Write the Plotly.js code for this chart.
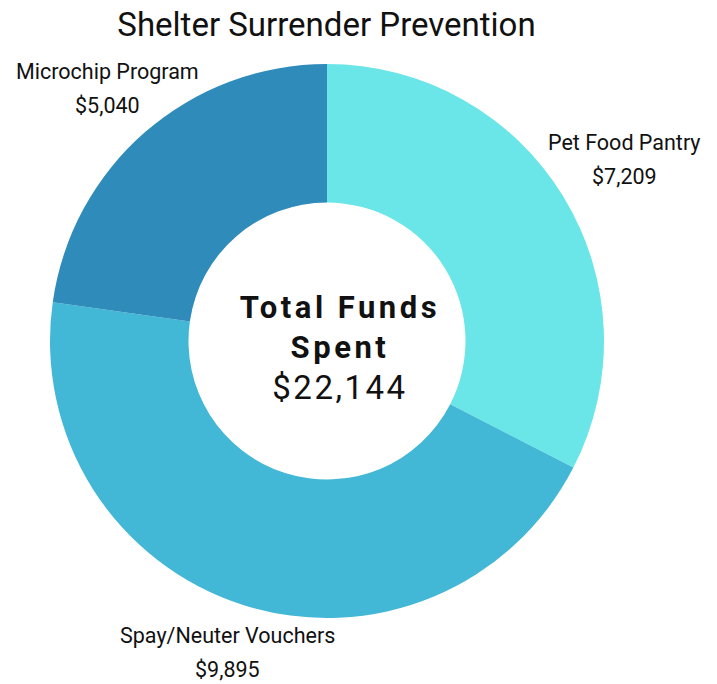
<!DOCTYPE html>
<html>
<head>
<meta charset="utf-8">
<script src="https://cdn.plot.ly/plotly-3.0.1.min.js"></script>
<style>
  body { margin: 0; background: #fff; }
  #grafico { width: 717px; height: 684px; }
  .centro .annotation-text { letter-spacing: 3.5px; }
</style>
</head>
<body>
<div id="grafico"></div>
<script>
// dados do gráfico
var programas = ['Pet Food Pantry', 'Spay/Neuter Vouchers', 'Microchip Program'];
var gastos = [7209, 9895, 5040];
var cores = ['#6ae5e8', '#42b7d6', '#2e8bba'];
var totalGasto = '$22,144';

var W = 717, H = 684;
var cx = 327, cy = 341, R = 277;   // centro e raio da rosca (px)
var fonte = 'Roboto, sans-serif';
var tamRotulo = 21.5;

function dinheiro(v) {
    return '$' + v.toLocaleString('en-US');
}

// mede a largura do texto para posicionar os rótulos fora da rosca
var ctx = document.createElement('canvas').getContext('2d');
ctx.font = tamRotulo + 'px Roboto';

var total = gastos.reduce(function (a, b) { return a + b; }, 0);
var anotacoes = [];
var acumulado = 0;
for (var i = 0; i < gastos.length; i++) {
    var meio = (acumulado + gastos[i] / 2) / total * 2 * Math.PI;
    acumulado += gastos[i];
    var dx = Math.sin(meio), dy = -Math.cos(meio);
    var hw = Math.max(ctx.measureText(programas[i]).width, ctx.measureText(dinheiro(gastos[i])).width) / 2;
    var hh = 25;
    var t = Math.min(Math.abs(dx) > 1e-6 ? hw / Math.abs(dx) : 1e9, Math.abs(dy) > 1e-6 ? hh / Math.abs(dy) : 1e9);
    var dist = R + 24 + t;
    var px = cx + dx * dist, py = cy + dy * dist;
    anotacoes.push({
        text: programas[i], x: px / W, y: 1 - (py - 17) / H, xref: 'paper', yref: 'paper',
        xanchor: 'center', yanchor: 'middle', showarrow: false,
        font: {family: fonte, size: tamRotulo, color: '#111'}
    });
    anotacoes.push({
        text: dinheiro(gastos[i]), x: px / W, y: 1 - (py + 17) / H, xref: 'paper', yref: 'paper',
        xanchor: 'center', yanchor: 'middle', showarrow: false,
        font: {family: fonte, size: tamRotulo, color: '#111'}
    });
}

anotacoes.push({
    text: '<b>Total Funds<br>Spent</b><br><span style="font-size:33px;letter-spacing:2.5px">' + totalGasto + '</span>',
    x: 340 / W, y: 1 - cy / H, xref: 'paper', yref: 'paper',
    xanchor: 'center', yanchor: 'middle', yshift: -7, showarrow: false,
    font: {family: fonte, size: 31, color: '#111'}
});

var dados = [{
    type: 'pie',
    labels: programas,
    values: gastos,
    hole: 0.5,
    sort: false,
    direction: 'clockwise',
    rotation: 0,
    marker: {colors: cores, line: {width: 0}},
    textinfo: 'none',
    hoverinfo: 'label+value',
    showlegend: false,
    domain: {x: [(cx - R) / W, (cx + R) / W], y: [1 - (cy + R) / H, 1 - (cy - R) / H]}
}];

var estilo = {
    width: W,
    height: H,
    margin: {l: 0, r: 0, t: 0, b: 0},
    paper_bgcolor: '#fff',
    annotations: anotacoes,
    title: {
        text: 'Shelter Surrender Prevention',
        font: {family: fonte, size: 33, color: '#111'},
        x: 326.5 / W,
        xanchor: 'center',
        y: 1 - 24 / H,
        yanchor: 'middle'
    }
};

Plotly.newPlot('grafico', dados, estilo, {displayModeBar: false}).then(function () {
    // espaçamento entre letras do texto central
    var ann = document.querySelectorAll('.annotation');
    ann[ann.length - 1].classList.add('centro');
});
</script>
</body>
</html>
